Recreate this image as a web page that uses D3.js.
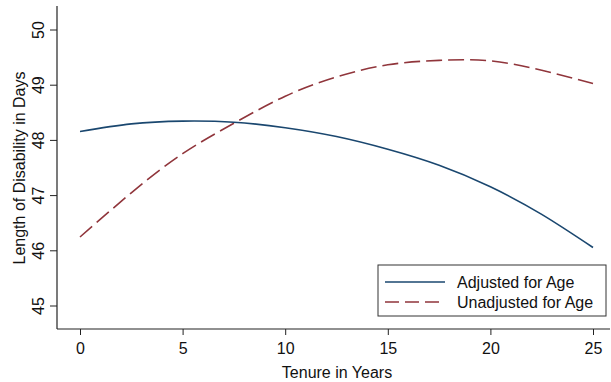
<!DOCTYPE html>
<html>
<head>
<meta charset="utf-8">
<script src="https://cdn.jsdelivr.net/npm/d3@7"></script>
<style>
  body { margin: 0; background: #fff; }
  svg text { font-family: "Liberation Sans", Arial, sans-serif; fill: #111; }
</style>
</head>
<body>
<div id="chart"></div>
<script>
// ── Data ──────────────────────────────────────────────────────────────────
const tenure     = [0, 2.5, 5, 7.5, 10, 12.5, 15, 17.5, 20, 22.5, 25];
const adjusted   = [48.16, 48.30, 48.35, 48.33, 48.23, 48.07, 47.84, 47.55, 47.16, 46.66, 46.06];
const unadjusted = [46.25, 47.05, 47.76, 48.31, 48.80, 49.15, 49.37, 49.45, 49.44, 49.27, 49.03];
const seriesNames = ["Adjusted for Age", "Unadjusted for Age"];
const xTicks = [0, 5, 10, 15, 20, 25];
const yTicks = [45, 46, 47, 48, 49, 50];

// ── Layout ────────────────────────────────────────────────────────────────
const W = 611, H = 382;
const PLOT = { left: 57, right: 610, top: 6, bottom: 329 };
const NAVY = "#1a476f", MAROON = "#90353b";
const FS = 16;

const svg = d3.select("#chart").append("svg")
  .attr("width", W).attr("height", H);

const x = d3.scaleLinear().domain([0, 25]).range([80, 593]);
const y = d3.scaleLinear().domain([45, 50]).range([306, 30]);

// Axes
const xAxis = svg.append("g")
  .attr("transform", `translate(0,${PLOT.bottom})`)
  .call(d3.axisBottom(x).tickValues(xTicks).tickFormat(d3.format("d")).tickSize(6).tickPadding(5));
xAxis.select(".domain").remove();
xAxis.selectAll("text").attr("font-size", FS).attr("dy", "0.85em");

const yAxis = svg.append("g")
  .attr("transform", `translate(${PLOT.left},0)`)
  .call(d3.axisLeft(y).tickValues(yTicks).tickFormat(d3.format("d")).tickSize(7).tickPadding(0));
yAxis.select(".domain").remove();
yAxis.selectAll(".tick").attr("transform", null);
yAxis.selectAll(".tick line").attr("y1", d => y(d)).attr("y2", d => y(d));
yAxis.selectAll("text")
  .attr("font-size", FS)
  .attr("text-anchor", "middle")
  .attr("x", 0).attr("y", 0).attr("dy", 0)
  .attr("transform", d => `translate(-13,${y(d)}) rotate(-90)`);

svg.selectAll(".tick line").attr("stroke", "#222");

// Axis lines
svg.append("line")
  .attr("x1", PLOT.left).attr("x2", PLOT.right)
  .attr("y1", PLOT.bottom).attr("y2", PLOT.bottom)
  .attr("stroke", "#222").attr("stroke-width", 1.2);
svg.append("line")
  .attr("x1", PLOT.left).attr("x2", PLOT.left)
  .attr("y1", PLOT.top).attr("y2", PLOT.bottom)
  .attr("stroke", "#222").attr("stroke-width", 1.2);

// Axis titles
svg.append("text")
  .attr("x", 337).attr("y", 378)
  .attr("text-anchor", "middle").attr("font-size", FS)
  .text("Tenure in Years");
svg.append("text")
  .attr("transform", "translate(19,168) rotate(-90)")
  .attr("text-anchor", "middle").attr("dy", "0.35em").attr("font-size", FS)
  .text("Length of Disability in Days");

// Lines
const line = d3.line()
  .x((d, i) => x(tenure[i]))
  .y(d => y(d))
  .curve(d3.curveNatural);

svg.append("path")
  .datum(unadjusted)
  .attr("fill", "none")
  .attr("stroke", MAROON)
  .attr("stroke-width", 1.6)
  .attr("stroke-dasharray", "16,6")
  .attr("d", line);

svg.append("path")
  .datum(adjusted)
  .attr("fill", "none")
  .attr("stroke", NAVY)
  .attr("stroke-width", 1.6)
  .attr("d", line);

// Legend
const lg = svg.append("g");
lg.append("rect")
  .attr("x", 378).attr("y", 265)
  .attr("width", 228).attr("height", 51)
  .attr("fill", "#fff").attr("stroke", "#333").attr("stroke-width", 1);

const rows = [
  { name: seriesNames[0], color: NAVY, dash: null, yy: 282 },
  { name: seriesNames[1], color: MAROON, dash: "14,6", yy: 302 }
];
rows.forEach(r => {
  lg.append("line")
    .attr("x1", 385).attr("x2", 445)
    .attr("y1", r.yy).attr("y2", r.yy)
    .attr("stroke", r.color).attr("stroke-width", 1.6)
    .attr("stroke-dasharray", r.dash);
  lg.append("text")
    .attr("x", 457).attr("y", r.yy)
    .attr("dy", "0.35em").attr("font-size", FS)
    .text(r.name);
});
</script>
</body>
</html>
